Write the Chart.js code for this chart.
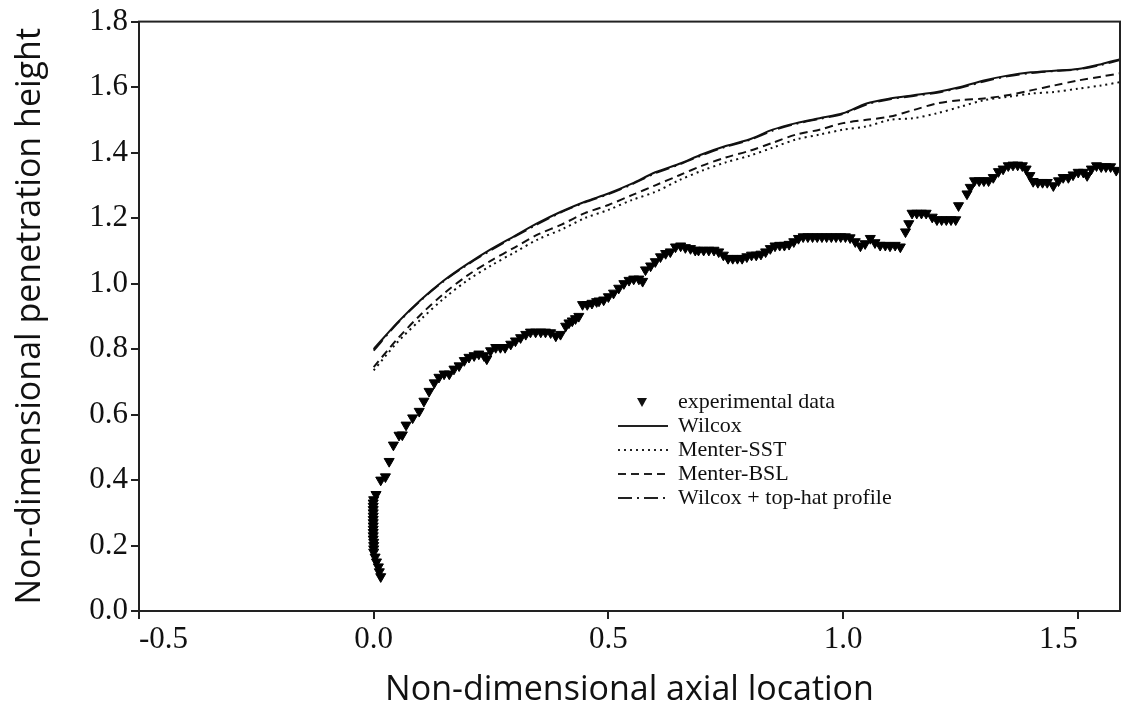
<!DOCTYPE html>
<html>
<head>
<meta charset="utf-8">
<script src="https://cdn.jsdelivr.net/npm/chart.js@4.4.1/dist/chart.umd.min.js"></script>
<style>
  html, body { margin: 0; background: #fff; }
</style>
</head>
<body>
<canvas id="chart" width="1128" height="715"></canvas>
<script>
const expX = [0.015, 0.012, 0.010, 0.006, 0.003, 0.000, 0.000, 0.000, 0.000, -0.001, -0.001, -0.001, -0.001, -0.001, -0.001, -0.001, -0.001, -0.001, -0.001, -0.001, -0.001, 0.000,
  0.005, 0.015, 0.025, 0.033, 0.042, 0.054, 0.061, 0.069, 0.083, 0.097, 0.107, 0.118, 0.129, 0.139, 0.150, 0.161, 0.171, 0.182, 0.193, 0.203, 0.214, 0.224, 0.235, 0.241,
  0.249, 0.260, 0.270, 0.280, 0.292, 0.302, 0.313, 0.324, 0.334, 0.345, 0.356, 0.366, 0.377, 0.388, 0.398,
  0.409, 0.416, 0.423, 0.430, 0.437, 0.445, 0.455, 0.465, 0.475, 0.480, 0.490, 0.500, 0.511, 0.522, 0.533, 0.544, 0.554, 0.565, 0.573,
  0.579, 0.590, 0.600, 0.611, 0.622, 0.632, 0.643, 0.654, 0.664, 0.675, 0.685,
  0.692, 0.703, 0.714, 0.725, 0.735, 0.745, 0.755, 0.765, 0.775, 0.785, 0.795, 0.805, 0.815, 0.825, 0.835, 0.845, 0.855, 0.865, 0.875, 0.885, 0.895,
  0.905, 0.915, 0.925, 0.935, 0.945, 0.955, 0.965, 0.975, 0.985, 0.995, 1.005, 1.015, 1.026, 1.037, 1.047, 1.058, 1.068, 1.079, 1.090, 1.100, 1.111, 1.122,
  1.133, 1.140, 1.147, 1.157, 1.167, 1.177, 1.190, 1.200, 1.210, 1.220, 1.230, 1.240, 1.246, 1.264, 1.271,
  1.280, 1.290, 1.300, 1.310, 1.320, 1.331, 1.341, 1.352, 1.362, 1.372, 1.382, 1.390, 1.398, 1.405, 1.415, 1.425, 1.435, 1.448,
  1.459, 1.469, 1.480, 1.490, 1.501, 1.512, 1.520, 1.529, 1.540, 1.550, 1.560, 1.570, 1.582];
const expY = [0.105, 0.120, 0.135, 0.150, 0.165, 0.180, 0.190, 0.200, 0.210, 0.220, 0.230, 0.240, 0.250, 0.260, 0.270, 0.280, 0.290, 0.300, 0.310, 0.320, 0.330, 0.340,
  0.356, 0.400, 0.410, 0.457, 0.507, 0.537, 0.538, 0.568, 0.590, 0.610, 0.641, 0.671, 0.697, 0.714, 0.724, 0.724, 0.739, 0.749, 0.765, 0.775, 0.780, 0.785, 0.780, 0.770,
  0.795, 0.805, 0.805, 0.805, 0.815, 0.825, 0.835, 0.845, 0.852, 0.852, 0.852, 0.852, 0.850, 0.840, 0.845,
  0.870, 0.880, 0.886, 0.893, 0.900, 0.936, 0.936, 0.940, 0.945, 0.947, 0.950, 0.960, 0.971, 0.986, 1.000, 1.010, 1.014, 1.014, 1.007,
  1.042, 1.054, 1.067, 1.082, 1.092, 1.097, 1.112, 1.115, 1.110, 1.107, 1.102,
  1.102, 1.102, 1.102, 1.102, 1.097, 1.087, 1.077, 1.077, 1.077, 1.077, 1.082, 1.087, 1.087, 1.090, 1.097, 1.107, 1.115, 1.117, 1.117, 1.120, 1.128,
  1.138, 1.143, 1.143, 1.143, 1.143, 1.143, 1.143, 1.143, 1.143, 1.143, 1.143, 1.140, 1.128, 1.115, 1.122, 1.138, 1.125, 1.117, 1.117, 1.115, 1.117, 1.112,
  1.158, 1.183, 1.215, 1.215, 1.215, 1.215, 1.203, 1.195, 1.195, 1.195, 1.195, 1.195, 1.238, 1.274, 1.294,
  1.314, 1.314, 1.314, 1.314, 1.324, 1.342, 1.350, 1.360, 1.362, 1.362, 1.360, 1.350, 1.330, 1.312, 1.309, 1.309, 1.309, 1.299,
  1.314, 1.324, 1.324, 1.332, 1.340, 1.340, 1.330, 1.350, 1.360, 1.357, 1.357, 1.357, 1.346];

// model curves
const modelX = [0, 0.05, 0.1, 0.15, 0.2, 0.25, 0.3, 0.35, 0.4, 0.45, 0.5, 0.55, 0.6, 0.65, 0.7, 0.75, 0.8, 0.85, 0.9, 0.95, 1.0, 1.05, 1.1, 1.15, 1.2, 1.25, 1.3, 1.35, 1.4, 1.45, 1.5, 1.55, 1.59];
const wilcox = [0.800, 0.880, 0.950, 1.010, 1.060, 1.105, 1.145, 1.185, 1.220, 1.250, 1.275, 1.305, 1.340, 1.365, 1.395, 1.420, 1.440, 1.470, 1.490, 1.505, 1.520, 1.550, 1.565, 1.575, 1.585, 1.600, 1.620, 1.635, 1.645, 1.650, 1.655, 1.670, 1.685];
const menterSST = [0.735, 0.820, 0.890, 0.955, 1.010, 1.055, 1.095, 1.135, 1.165, 1.200, 1.225, 1.255, 1.280, 1.315, 1.345, 1.370, 1.390, 1.415, 1.440, 1.455, 1.470, 1.480, 1.500, 1.505, 1.520, 1.540, 1.560, 1.570, 1.580, 1.585, 1.595, 1.605, 1.615];
const menterBSL = [0.745, 0.830, 0.905, 0.970, 1.025, 1.070, 1.110, 1.150, 1.180, 1.215, 1.240, 1.270, 1.300, 1.330, 1.360, 1.385, 1.405, 1.430, 1.455, 1.470, 1.490, 1.500, 1.510, 1.530, 1.550, 1.560, 1.565, 1.575, 1.590, 1.605, 1.620, 1.632, 1.642];
const wilcoxTopHat = [0.795, 0.878, 0.948, 1.008, 1.058, 1.102, 1.143, 1.182, 1.218, 1.248, 1.273, 1.303, 1.337, 1.363, 1.392, 1.418, 1.438, 1.467, 1.488, 1.503, 1.518, 1.547, 1.563, 1.573, 1.583, 1.598, 1.617, 1.633, 1.643, 1.649, 1.654, 1.668, 1.683];

const xTicks = [-0.5, 0.0, 0.5, 1.0, 1.5];

const legendItems = [
  { label: 'experimental data', marker: true },
  { label: 'Wilcox', dash: [] },
  { label: 'Menter-SST', dash: [2, 4] },
  { label: 'Menter-BSL', dash: [8, 5] },
  { label: 'Wilcox + top-hat profile', dash: [14, 5, 2, 5] }
];

const pts = (xs, ys) => xs.map((x, i) => ({ x: x, y: ys[i] }));

function lineSet(label, ys, dash) {
  return {
    type: 'line',
    label: label,
    data: pts(modelX, ys),
    borderColor: '#111',
    borderWidth: 2,
    borderDash: dash,
    pointRadius: 0,
    tension: 0.3,
    fill: false
  };
}

// frame + legend inside the plot
const framePlugin = {
  id: 'frame',
  afterDraw(chart) {
    const { ctx, chartArea: a } = chart;
    ctx.save();
    ctx.strokeStyle = '#222';
    ctx.lineWidth = 2;
    ctx.strokeRect(a.left, a.top, a.right - a.left, a.bottom - a.top);

    const x0 = 618, x1 = 668, tx = 678;
    let y = 402;
    ctx.font = '22px "Liberation Serif"';
    ctx.textBaseline = 'middle';
    ctx.fillStyle = '#111';
    legendItems.forEach(item => {
      if (item.marker) {
        ctx.beginPath();
        ctx.moveTo(637, y - 4);
        ctx.lineTo(647, y - 4);
        ctx.lineTo(642, y + 5);
        ctx.closePath();
        ctx.fill();
      } else {
        ctx.beginPath();
        ctx.setLineDash(item.dash);
        ctx.lineWidth = 2;
        ctx.moveTo(x0, y);
        ctx.lineTo(x1, y);
        ctx.stroke();
        ctx.setLineDash([]);
      }
      ctx.fillText(item.label, tx, y);
      y += 24;
    });
    ctx.restore();
  }
};

new Chart(document.getElementById('chart'), {
  type: 'scatter',
  data: {
    datasets: [
      {
        label: 'experimental data',
        data: pts(expX, expY),
        pointStyle: 'triangle',
        rotation: 180,
        pointRadius: 5.8,
        backgroundColor: '#000',
        borderColor: '#000',
        borderWidth: 1
      },
      lineSet('Wilcox', wilcox, []),
      lineSet('Menter-SST', menterSST, [2, 4]),
      lineSet('Menter-BSL', menterBSL, [8, 5]),
      lineSet('Wilcox + top-hat profile', wilcoxTopHat, [14, 5, 2, 5])
    ]
  },
  options: {
    responsive: false,
    animation: false,
    devicePixelRatio: 1,
    layout: { padding: { top: 16, right: 8, left: 0, bottom: 0 } },
    plugins: { legend: { display: false }, tooltip: { enabled: false } },
    scales: {
      x: {
        type: 'linear',
        min: -0.5,
        max: 1.59,
        afterBuildTicks: s => { s.ticks = xTicks.map(v => ({ value: v })); },
        afterFit: s => { s.height = 104; },
        grid: { drawOnChartArea: false, tickLength: 8, color: '#222', lineWidth: 2 },
        border: { color: '#222', width: 2 },
        ticks: {
          color: '#111',
          font: { family: 'Liberation Serif', size: 31 },
          padding: 2,
          align: 'inner',
          callback: v => v.toFixed(1)
        },
        title: {
          display: true,
          text: 'Non-dimensional axial location',
          color: '#111',
          font: { family: 'Open Sans', size: 34 },
          padding: { top: 4, bottom: 4 }
        }
      },
      y: {
        min: 0,
        max: 1.8,
        afterFit: s => { s.width = 139; },
        grid: { drawOnChartArea: false, tickLength: 8, color: '#222', lineWidth: 2 },
        border: { color: '#222', width: 2 },
        ticks: {
          stepSize: 0.2,
          color: '#111',
          font: { family: 'Liberation Serif', size: 31 },
          padding: 3,
          callback: v => v.toFixed(1)
        },
        title: {
          display: true,
          text: 'Non-dimensional penetration height',
          color: '#111',
          font: { family: 'Open Sans', size: 34 },
          padding: { top: 10, bottom: 4 }
        }
      }
    }
  },
  plugins: [framePlugin]
});
</script>
</body>
</html>
